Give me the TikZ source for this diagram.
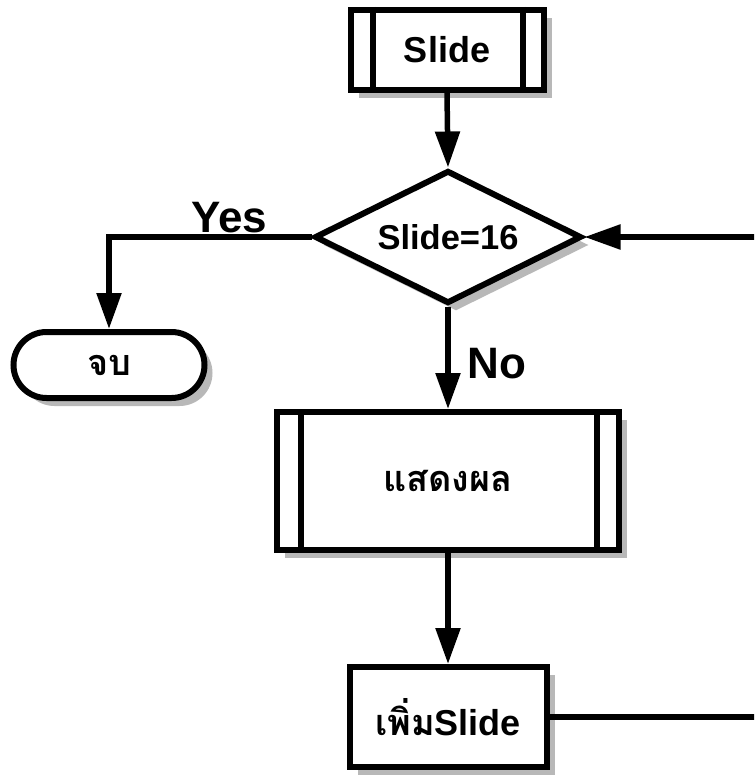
\documentclass[tikz,border=0pt]{standalone}
\usepackage{fontspec}
\setmainfont{Liberation Sans}
\newfontfamily\thai[Script=Thai]{Loma}
\usetikzlibrary{arrows.meta,shapes.geometric,shapes.misc,shadows}

\tikzset{
  shade box/.style={drop shadow={shadow xshift=8pt,shadow yshift=-8pt,fill=black!28,opacity=1}},
  procbox/.style={draw,line width=6pt,fill=white,rectangle,inner sep=0pt,shade box,font=\bfseries\fontsize{36}{40}\selectfont},
  decbox/.style={draw,line width=6pt,fill=white,diamond,aspect=2,inner sep=0pt,shade box,font=\bfseries\fontsize{34.5}{38}\selectfont},
  termbox/.style={draw,line width=6pt,fill=white,rounded rectangle,inner sep=0pt,shade box,font=\bfseries\fontsize{36}{40}\selectfont},
  flow/.style={line width=5.5pt,-{Triangle[length=36pt,width=24pt]}},
  plain/.style={line width=5.5pt},
  lbl/.style={font=\bfseries\fontsize{44}{48}\selectfont,anchor=base,inner sep=0pt}
}

\begin{document}
\begin{tikzpicture}[x=1pt,y=-1pt]
  \useasboundingbox (0,0) rectangle (754,778);
  \fill[white] (0,0) rectangle (754,778);
  \clip (0,0) rectangle (754,778);

  % boxes
  \node[procbox,minimum width=193pt,minimum height=80pt] (slide) at (447,50) {Slide};
  \draw[line width=6pt] ([xshift=25pt]slide.north west) -- ([xshift=25pt]slide.south west)
                        ([xshift=-24pt]slide.north east) -- ([xshift=-24pt]slide.south east);

  \node[decbox,minimum width=267pt,minimum height=133pt] (check) at (448,237) {Slide=16};

  \node[termbox,minimum width=191pt,minimum height=66pt] (stop) at (109,365) {\thai จบ};

  \node[procbox,minimum width=342pt,minimum height=138pt] (show) at (448,481) {\thai แสดงผล};
  \draw[line width=6pt] ([xshift=27pt]show.north west) -- ([xshift=27pt]show.south west)
                        ([xshift=-25pt]show.north east) -- ([xshift=-25pt]show.south east);

  \node[procbox,minimum width=197pt,minimum height=100pt] (inc) at (448,717) {{\thai เพิ่ม}Slide};

  % loop-back corners beyond the right edge
  \coordinate (loopA) at (775,717);
  \coordinate (loopB) at (775,237);

  % connectors
  \draw[flow] (slide.south) -- (check.north);
  \draw[flow] (check.west) -| (stop.north);
  \draw[flow] (check.south) -- (show.north);
  \draw[flow] (show.south) -- (inc.north);
  \draw[plain] (inc.east) -- (loopA) -- (loopB);
  \draw[flow] (loopB) -- (check.east);

  % branch labels
  \node[lbl] (yes) at (229,232) {Yes};
  \node[lbl] (no) at (497,378) {No};
\end{tikzpicture}
\end{document}
